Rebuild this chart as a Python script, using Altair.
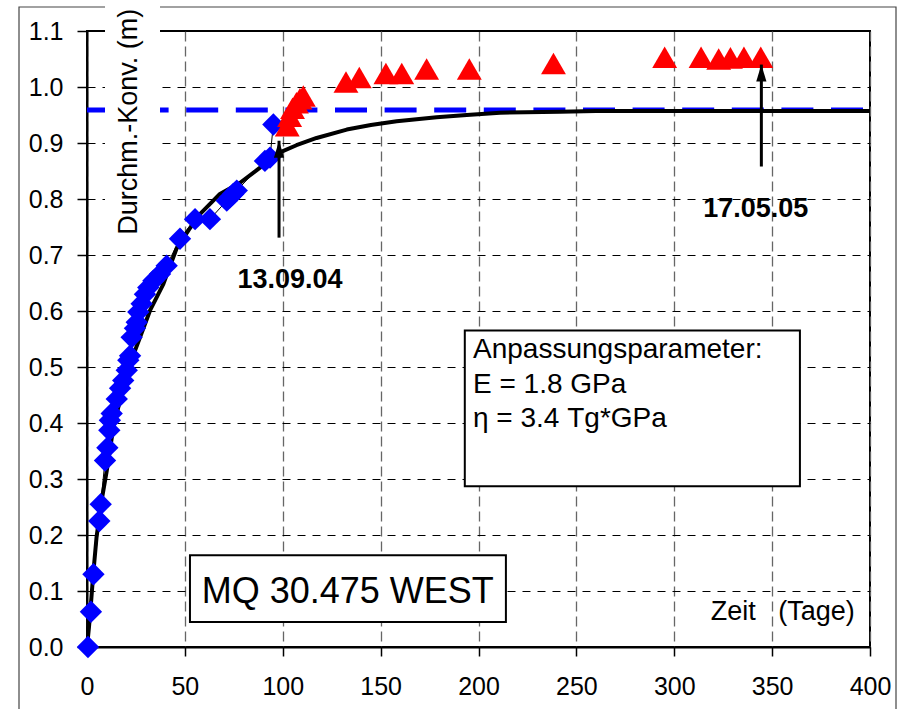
import altair as alt
import pandas as pd

# ---------------- data ----------------
meas_days = [0.5, 2.0, 3.3, 6.3, 7.0, 9.2, 10.4, 11.4, 11.7, 12.6, 15.2, 16.9, 18.5, 20.3, 21.1,
             22.0, 22.8, 24.5, 25.4, 26.2, 27.9, 29.6, 31.3, 33.9, 37.3, 40.7, 47.5, 55.2, 62.8,
             71.4, 73.0, 74.7, 76.5, 90.9, 93.5, 95.2]
meas_vals = [0.000, 0.063, 0.130, 0.225, 0.255, 0.333, 0.356, 0.387, 0.405, 0.417, 0.443, 0.462,
             0.476, 0.494, 0.512, 0.520, 0.553, 0.569, 0.580, 0.598, 0.613, 0.630, 0.642, 0.654,
             0.666, 0.681, 0.729, 0.764, 0.764, 0.797, 0.803, 0.809, 0.815, 0.868, 0.874, 0.933]

late_days = [102.3, 103.5, 105.0, 107.0, 108.8, 110.5, 132.3, 139.1, 152.7, 160.8, 173.5, 195.3,
             238.3, 295.1, 313.7, 322.7, 328.7, 335.6, 344.2]
late_vals = [0.931, 0.948, 0.962, 0.972, 0.979, 0.984, 1.009, 1.017, 1.024, 1.024, 1.032, 1.032,
             1.042, 1.053, 1.053, 1.050, 1.052, 1.053, 1.053]

fit_days = [0, 1.0, 1.9, 3.2, 4.9, 7.5, 10.1, 13.5, 17.7, 22.0, 27.1, 32.2, 39.0, 45.8, 52.0,
            57.7, 67.9, 78.2, 88.4, 97.7, 107.0, 117.3, 132.7, 145.0, 158.2, 178.6, 194.0, 211.0,
            241.6, 260, 300, 350, 400]
fit_vals = [0, 0.035, 0.072, 0.131, 0.197, 0.262, 0.315, 0.393, 0.452, 0.506, 0.553, 0.601, 0.648,
            0.712, 0.745, 0.773, 0.809, 0.829, 0.856, 0.882, 0.896, 0.909, 0.924, 0.932, 0.939,
            0.946, 0.950, 0.954, 0.956, 0.957, 0.957, 0.957, 0.957]

asymptote_val = 0.959
x_ticks = [0, 50, 100, 150, 200, 250, 300, 350, 400]
y_ticks = [0.0, 0.1, 0.2, 0.3, 0.4, 0.5, 0.6, 0.7, 0.8, 0.9, 1.0, 1.1]

arrow_days = [98.1, 344.5]
arrow_tips = [0.904, 1.040]
arrow_tails = [0.731, 0.858]
date_labels = ["13.09.04", "17.05.05"]
date_label_days = [103.7, 341.6]
date_label_vals = [0.6416, 0.7674]

param_lines = ["Anpassungsparameter:", "E = 1.8 GPa", "\u03b7 = 3.4 Tg*GPa"]
param_line_vals = [0.5168, 0.4527, 0.392]
section_name = "MQ 30.475 WEST"
x_title = "Zeit\u00a0\u00a0\u00a0(Tage)"
y_title = "Durchm.-Konv. (m)"

FONT = "Liberation Sans"

# ---------------- tables ----------------
meas = pd.DataFrame({"x": meas_days, "y": meas_vals})
late = pd.DataFrame({"x": late_days, "y": late_vals})
fit = pd.DataFrame({"x": fit_days, "y": fit_vals})
asym = pd.DataFrame({"x": [x_ticks[0]], "x2": [x_ticks[-1]], "y": [asymptote_val]})
arrows = pd.DataFrame({"x": arrow_days, "y": arrow_tips, "y2": arrow_tails})
dates = pd.DataFrame({"x": date_label_days, "y": date_label_vals, "t": date_labels})
params = pd.DataFrame({"x": [197.2] * 3, "y": param_line_vals, "t": param_lines})

xs = alt.Scale(domain=[0, 400], nice=False, zero=False)
ys = alt.Scale(domain=[0, 1.1], nice=False, zero=False)

xax = alt.Axis(values=x_ticks, title=None, grid=True, gridColor="#666666", gridDash=[10, 5],
               gridWidth=1.3, domainColor="black", domainWidth=2, tickColor="black",
               tickWidth=1.5, tickSize=9, labelFont=FONT, labelFontSize=25, labelColor="black",
               labelBaseline="alphabetic", labelPadding=38, labelFlush=False)
yax = alt.Axis(values=y_ticks, format=".1f", title=None, grid=True, gridColor="black",
               gridDash=[8, 7], gridWidth=1, domainColor="black", domainWidth=2,
               tickColor="black", tickWidth=1.5, tickSize=10, labelFont=FONT, labelFontSize=25,
               labelColor="black", labelPadding=14)

X = alt.X("x:Q", scale=xs, axis=xax)
Y = alt.Y("y:Q", scale=ys, axis=yax)

frame = alt.Chart(pd.DataFrame({"a": [0]})).mark_rect(
    fill=None, stroke="#444444", strokeWidth=1.2
).encode(x=alt.value(-68), x2=alt.value(809), y=alt.value(-24), y2=alt.value(700))

asym_line = alt.Chart(asym).mark_rule(color="#0000FF", strokeWidth=5, strokeDash=[32, 17.6]).encode(
    x=X, x2="x2:Q", y=Y)

thin = alt.Chart(meas).mark_line(color="black", strokeWidth=1).encode(x=X, y=Y, order="x:Q")
fit_line = alt.Chart(fit).mark_line(color="black", strokeWidth=4, strokeJoin="round").encode(
    x=X, y=Y, order="x:Q")
diamonds = alt.Chart(meas).mark_point(shape="diamond", filled=True, size=500, color="#0000FF",
                                      opacity=1).encode(x=X, y=Y)
triangles = alt.Chart(late).mark_point(shape="triangle-up", filled=True, size=620,
                                       color="#FF0000", opacity=1).encode(x=X, y=Y)

shafts = alt.Chart(arrows).mark_rule(color="black", strokeWidth=3).encode(x=X, y=Y, y2="y2:Q")
heads = alt.Chart(arrows).mark_point(shape="M0,-1L0.6,1L-0.6,1Z", filled=True, size=289,
                                     color="black", opacity=1, yOffset=8.5).encode(x=X, y=Y)
date_text = alt.Chart(dates).mark_text(font=FONT, fontSize=27, fontWeight="bold", align="center",
                                       baseline="alphabetic", color="black").encode(
    x=X, y=Y, text="t:N")

param_box = alt.Chart(pd.DataFrame({"x": [193.0], "x2": [364.2], "y": [0.565], "y2": [0.287]})
                      ).mark_rect(fill="white", stroke="black", strokeWidth=2).encode(
    x=X, x2="x2:Q", y=Y, y2="y2:Q")
param_text = alt.Chart(params).mark_text(font=FONT, fontSize=28, align="left",
                                         baseline="alphabetic", color="black").encode(
    x=X, y=Y, text="t:N")

name_box = alt.Chart(pd.DataFrame({"x": [52.6], "x2": [214.0], "y": [0.164], "y2": [0.0446]})
                     ).mark_rect(fill="white", stroke="black", strokeWidth=2).encode(
    x=X, x2="x2:Q", y=Y, y2="y2:Q")
name_text = alt.Chart(pd.DataFrame({"x": [133.2], "y": [0.079], "t": [section_name]})).mark_text(
    font=FONT, fontSize=36, align="center", baseline="alphabetic", color="black").encode(
    x=X, y=Y, text="t:N")

xtitle = alt.Chart(pd.DataFrame({"x": [318.6], "y": [0.048], "t": [x_title]})).mark_text(
    font=FONT, fontSize=27, align="left", baseline="alphabetic", color="black").encode(
    x=X, y=Y, text="t:N")

ytitle_bg = alt.Chart(pd.DataFrame({"x": [9.2], "x2": [37.3], "y": [0.729], "y2": [1.153]})
                      ).mark_rect(fill="white", stroke=None).encode(x=X, x2="x2:Q", y=Y, y2="y2:Q")
ytitle = alt.Chart(pd.DataFrame({"x": [25.7], "y": [0.938], "t": [y_title]})).mark_text(
    font=FONT, fontSize=27, angle=270, align="center", baseline="alphabetic", color="black"
).encode(x=X, y=Y, text="t:N")

chart = alt.layer(
    frame, asym_line, thin, fit_line, diamonds, triangles, shafts, heads, date_text,
    param_box, param_text, name_box, name_text, xtitle, ytitle_bg, ytitle
).properties(
    width=783, height=616, autosize="none",
    padding={"left": 87, "top": 31, "right": 33, "bottom": 62},
    background="white"
).configure_view(stroke="black", strokeWidth=2)

chart.save("out.html", embed_options={"renderer": "svg", "actions": False})
